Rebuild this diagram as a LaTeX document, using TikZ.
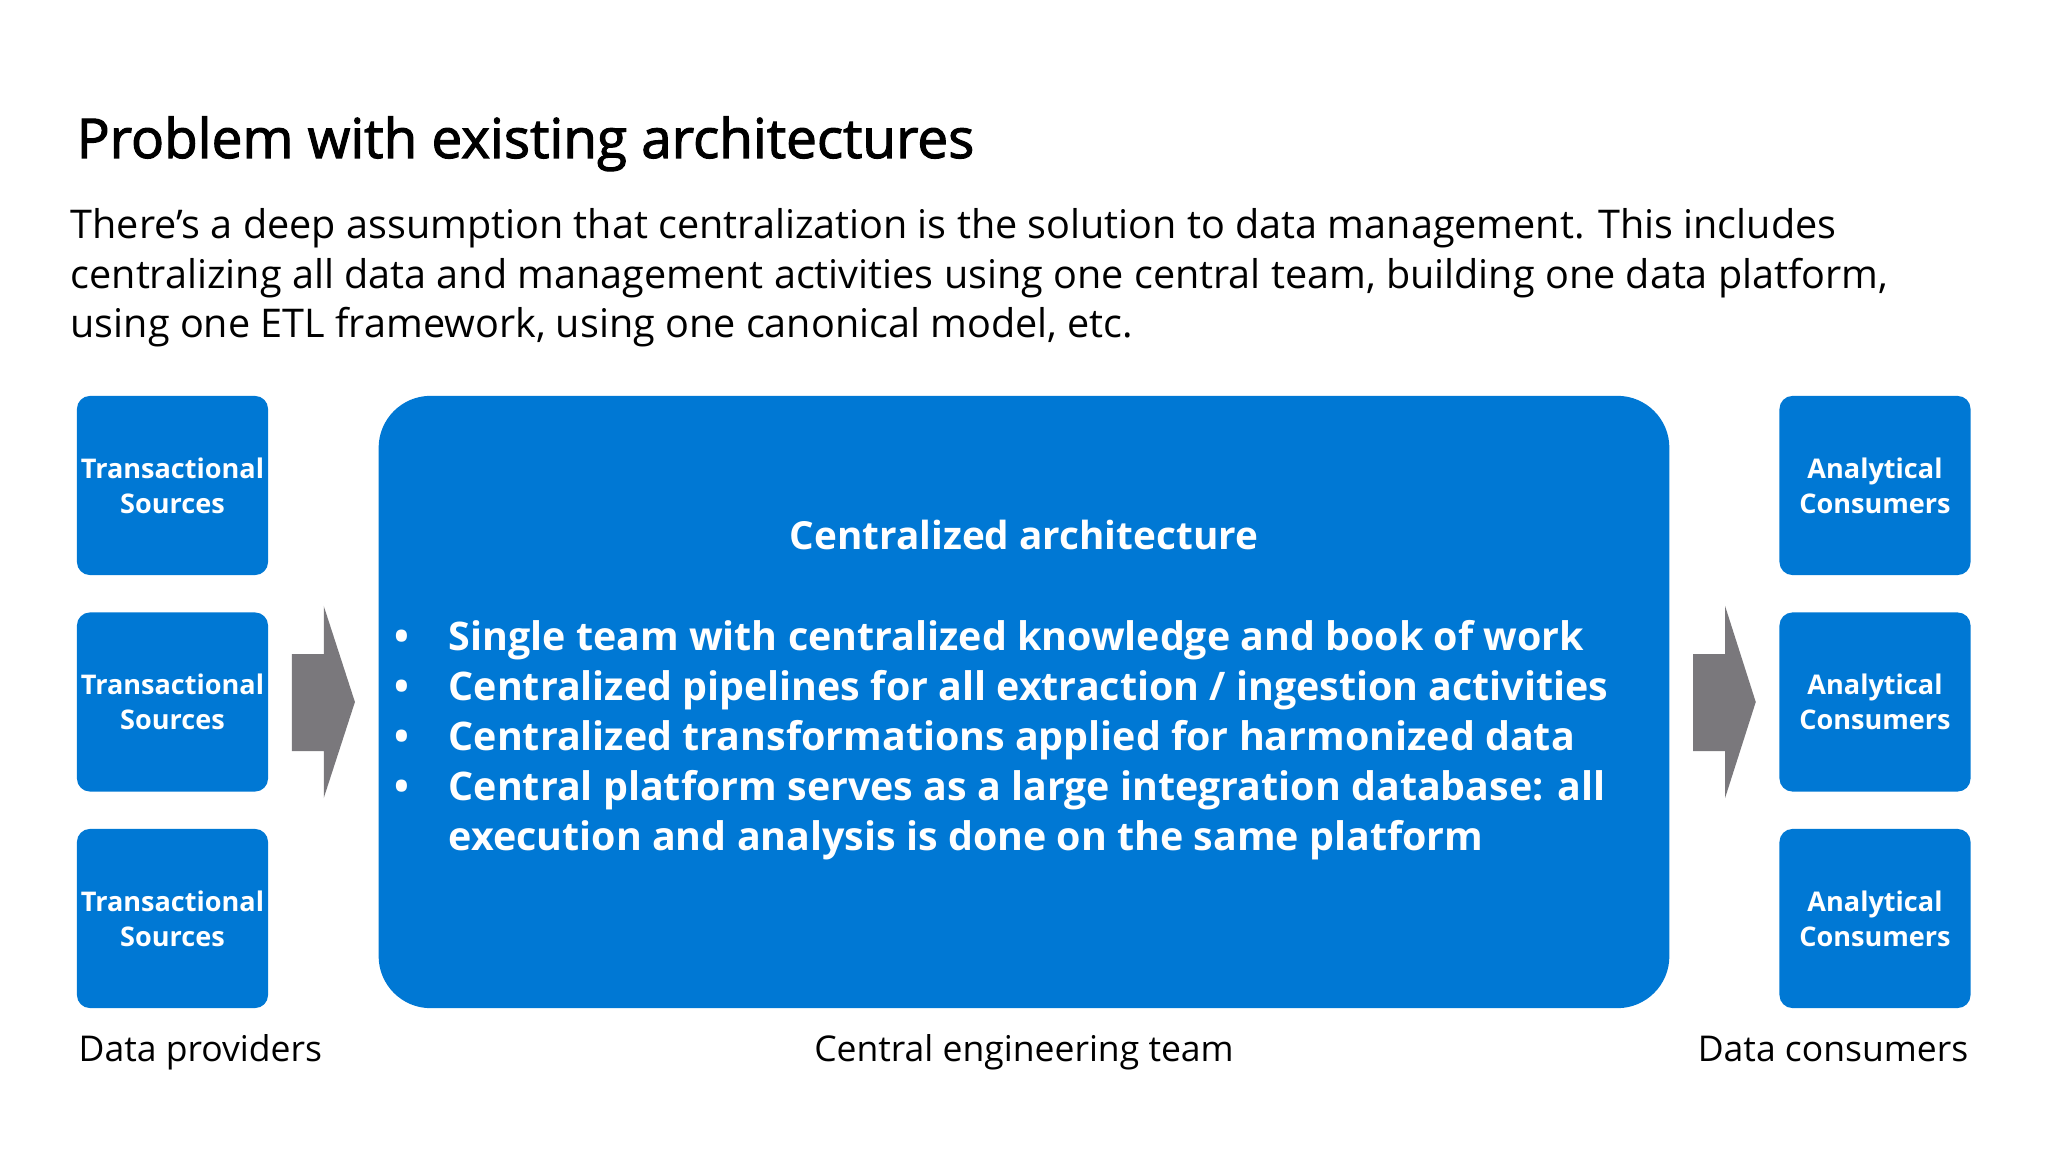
\documentclass[tikz,border=0pt]{standalone}
\usepackage{fontspec}
\setmainfont{Open Sans}
\newfontfamily\headfont[FakeBold=2]{Open Sans}
\usetikzlibrary{calc}

\definecolor{msblue}{HTML}{0078D4}
\definecolor{arrowgray}{HTML}{7A787C}

\tikzset{
  plain/.style={inner sep=0pt, text=black},
  tile/.style={fill=msblue, rounded corners=1.3mm, minimum width=19.1mm,
    minimum height=17.9mm, inner sep=0pt, text=white, align=center,
    font=\bfseries\fontsize{7.7}{10}\selectfont},
  core/.style={fill=msblue, rounded corners=5.2mm, minimum width=129mm,
    minimum height=61.2mm, inner sep=0pt},
  coretext/.style={inner sep=0pt, text=white, font=\bfseries\fontsize{11.2}{14.2}\selectfont}
}

\begin{document}
\begin{tikzpicture}[x=0.01cm, y=-0.01cm]
            \useasboundingbox[fill=white] (0, 0) rectangle (2048, 1152);
            % heading and intro text
            \node[plain, anchor=base west, font=\headfont\fontsize{15.6}{17}\selectfont] (title) at (76, 158) {Problem with existing architectures};
            \node[plain, anchor=base west, align=left, font=\fontsize{11.25}{14.2}\selectfont] (intro) at (70, 338)
                {There’s a deep assumption that centralization is the solution to data management. This includes\\
                 centralizing all data and management activities using one central team, building one data platform,\\
                 using one ETL framework, using one canonical model, etc.};
            % providers and consumers
            \foreach \i/\y in {1/485.5, 2/702, 3/918.5} {
                \node[tile] (src\i) at (172.5, \y) {Transactional\\Sources};
                \node[tile] (dst\i) at (1875, \y) {Analytical\\Consumers};
            }
            % central platform
            \node[core] (core) at (1024, 702) {};
            \node[coretext, anchor=base, font=\bfseries\fontsize{11}{14.2}\selectfont] (coretitle) at (1024, 550) {Centralized architecture};
            \node[coretext, anchor=base west, align=left] (points) at (394, 850)
                {\makebox[5.4mm][l]{•}Single team with centralized knowledge and book of work\\
                 \makebox[5.4mm][l]{•}Centralized pipelines for all extraction / ingestion activities\\
                 \makebox[5.4mm][l]{•}Centralized transformations applied for harmonized data\\
                 \makebox[5.4mm][l]{•}Central platform serves as a large integration database: all\\
                 \hspace*{5.4mm}execution and analysis is done on the same platform};
            % block arrows
            \foreach \a/\b in {src2/core, core/dst2} {
                \fill[arrowgray] ($(\a.east) + (23, -48)$) -- ++(32, 0) -- ++(0, -48)
                    -- ($(\b.west) + (-23, 0)$) -- ($(\a.east) + (55, 96)$) -- ++(0, -47)
                    -- ++(-32, 0) -- cycle;
            }
            % captions
            \node[plain, anchor=base west, font=\fontsize{10.1}{13}\selectfont] (providers) at (78, 1061) {Data providers};
            \node[plain, anchor=base, font=\fontsize{10.1}{13}\selectfont] (team) at (1024, 1061) {Central engineering team};
            \node[plain, anchor=base east, font=\fontsize{10.1}{13}\selectfont] (consumers) at (1969, 1061) {Data consumers};
        \end{tikzpicture}
\end{document}
